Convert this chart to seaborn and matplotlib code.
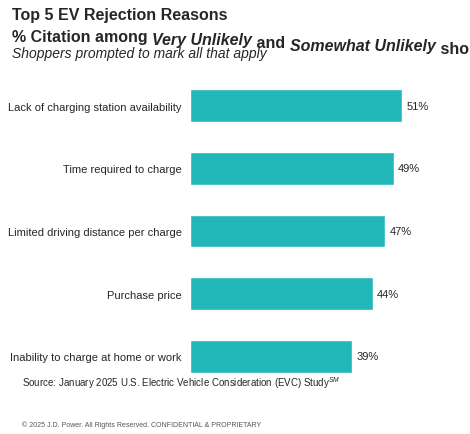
import matplotlib
matplotlib.use("Agg")
import matplotlib.pyplot as plt
import seaborn as sns
import pandas as pd

categories = ["Lack of charging station availability", "Time required to charge",
              "Limited driving distance per charge", "Purchase price",
              "Inability to charge at home or work"]
values = [51, 49, 47, 44, 39]
labels = ["51%", "49%", "47%", "44%", "39%"]

df = pd.DataFrame({"reason": categories, "pct": values})
sns.set_style("white")
plt.rcParams['font.family'] = ['Liberation Sans', 'DejaVu Sans']
plt.rcParams['mathtext.fontset'] = 'custom'
plt.rcParams['mathtext.rm'] = 'Liberation Sans'
plt.rcParams['mathtext.it'] = 'Liberation Sans:italic'

fig = plt.figure(figsize=(4.7, 4.35), dpi=100)
H, W = 435, 470
ax = fig.add_axes([190/W, 1-395/H, 250/W, 326/H])
sns.barplot(data=df, y="reason", x="pct", color="#22B8BA", saturation=1, width=0.52, ax=ax)
ax.set_xlim(0, 51*250/212)
ax.set_ylim(4.6, -0.6)
for i, (v, l) in enumerate(zip(values, labels)):
    ax.text(v + 1, i, l, va="center", ha="left", fontsize=8)
ax.set_xlabel(""); ax.set_ylabel("")
ax.set_xticks([])
ax.tick_params(axis="y", length=0, labelsize=8, pad=6)
for s in ax.spines.values():
    s.set_visible(False)

fig.text(12/W, 1-20/H, "Top 5 EV Rejection Reasons", fontsize=11.5, fontweight="bold", va="baseline")
parts = [("% Citation among ", "normal"), ("Very Unlikely", "italic"), (" and ", "normal"),
         ("Somewhat Unlikely", "italic"), (" shoppers", "normal")]
prev = fig.text(12/W, 1-42/H, parts[0][0], fontsize=11.5, fontweight="bold", va="baseline")
for txt, st in parts[1:]:
    prev = fig.text(0, 0, txt, fontsize=11.5, fontweight="bold", style=st, va="baseline",
                    transform=matplotlib.transforms.offset_copy(fig.transFigure, fig=fig))
    prev.remove()
    prev = fig.texts[-1] if False else prev
# simpler chained approach using annotate
for t in list(fig.texts)[1:]:
    t.remove()
prev = fig.text(12/W, 1-42/H, parts[0][0], fontsize=11.5, fontweight="bold", va="baseline")
for txt, st in parts[1:]:
    prev = fig.add_artist(matplotlib.text.Annotation(txt, xy=(1, 0), xycoords=prev,
                          fontsize=11.5, fontweight="bold", style=st, va="baseline", ha="left"))
fig.text(12/W, 1-58/H, "Shoppers prompted to mark all that apply", fontsize=10, style="italic", va="baseline")
fig.text(22/W, 1-383/H, "Source: January 2025 U.S. Electric Vehicle Consideration (EVC) Study$^{SM}$",
         fontsize=7, va="center")
fig.text(22/W, 1-425/H, "© 2025 J.D. Power. All Rights Reserved. CONFIDENTIAL & PROPRIETARY",
         fontsize=5, color="#555555", va="center")
fig.savefig("out.png", dpi=100)
